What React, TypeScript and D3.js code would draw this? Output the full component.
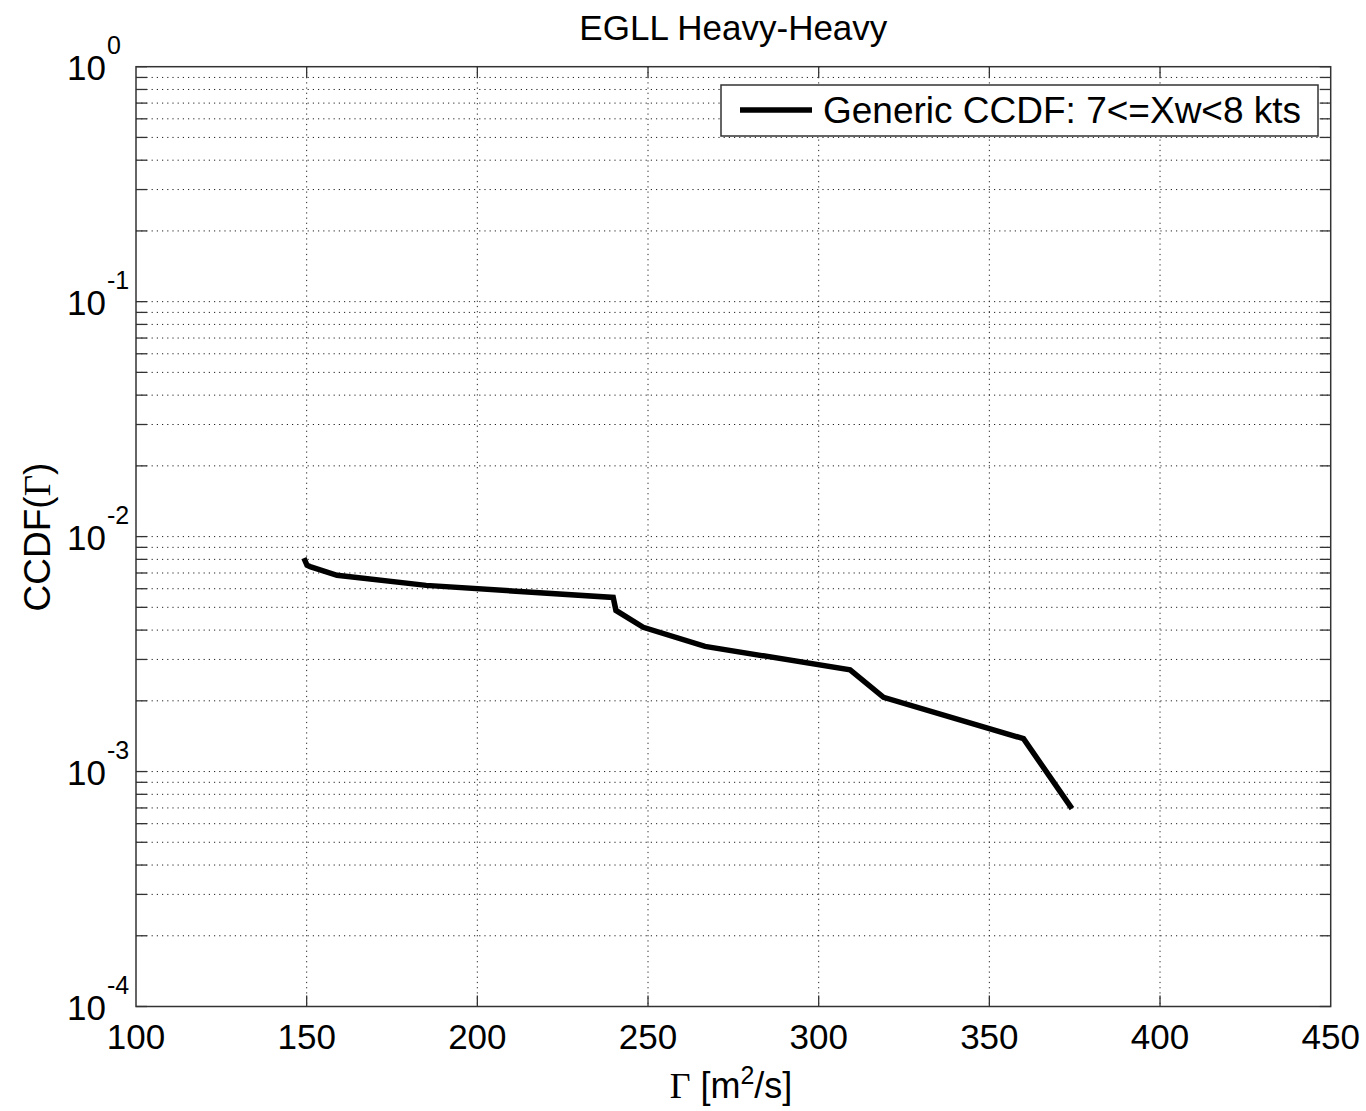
import React from "react";
import * as d3 from "d3";

const title = "EGLL Heavy-Heavy";
const legendLabel = "Generic CCDF: 7<=Xw<8 kts";
const xTicks = [100, 150, 200, 250, 300, 350, 400, 450];
const yDecades = [-4, -3, -2, -1, 0];
const gammaVals = [149.2, 150.1, 151.0, 158.9, 185.0, 239.8, 240.6, 248.6, 266.7, 309.2, 319.0, 360.0, 374.2];
const ccdfVals = [0.0081, 0.00755, 0.00745, 0.00684, 0.0062, 0.00551, 0.00485, 0.00411, 0.00341, 0.00271, 0.00207, 0.00138, 0.000695];

const W = 1366;
const H = 1111;
const L = 136, R = 1330.7, T = 66.7, B = 1006.5;
const FONT = "Arial, 'Liberation Sans', Helvetica, sans-serif";

export default function App() {
  const x = d3.scaleLinear().domain([100, 450]).range([L, R]);
  const y = d3.scaleLog().domain([1e-4, 1]).range([B, T]);
  const minor: number[] = [];
  for (const dec of yDecades.slice(0, -1)) {
    for (let m = 2; m <= 9; m++) minor.push(m * Math.pow(10, dec));
  }
  const majors = yDecades.map((d) => Math.pow(10, d));
  const line = d3
    .line<number>()
    .x((_, i) => x(gammaVals[i]))
    .y((_, i) => y(ccdfVals[i]));
  const dash = "1.2 4";
  const gridColor = "#222";
  const tl = 11;
  return (
    <svg width={W} height={H} style={{ position: "absolute", left: 0, top: 0, background: "#fff" }}>
      <rect x={0} y={0} width={W} height={H} fill="#fff" />
      {/* grid */}
      {xTicks.slice(1, -1).map((t) => (
        <line key={"gx" + t} x1={x(t)} x2={x(t)} y1={T} y2={B} stroke={gridColor} strokeWidth={1} strokeDasharray={dash} />
      ))}
      {[...majors.slice(1, -1), ...minor].map((v, i) => (
        <line key={"gy" + i} x1={L} x2={R} y1={y(v)} y2={y(v)} stroke={gridColor} strokeWidth={1} strokeDasharray={dash} />
      ))}
      {/* ticks */}
      {xTicks.slice(1, -1).map((t) => (
        <g key={"tx" + t}>
          <line x1={x(t)} x2={x(t)} y1={B} y2={B - tl} stroke="#333" strokeWidth={1.3} />
          <line x1={x(t)} x2={x(t)} y1={T} y2={T + tl} stroke="#333" strokeWidth={1.3} />
        </g>
      ))}
      {[...majors, ...minor].map((v, i) => (
        <g key={"ty" + i}>
          <line x1={L} x2={L + tl} y1={y(v)} y2={y(v)} stroke="#333" strokeWidth={1.3} />
          <line x1={R} x2={R - tl} y1={y(v)} y2={y(v)} stroke="#333" strokeWidth={1.3} />
        </g>
      ))}
      <rect x={L} y={T} width={R - L} height={B - T} fill="none" stroke="#333" strokeWidth={1.5} />
      {/* data */}
      <path d={line(gammaVals) || ""} fill="none" stroke="#000" strokeWidth={5.5} strokeLinejoin="miter" />
      {/* x tick labels */}
      {xTicks.map((t) => (
        <text key={"lx" + t} x={x(t)} y={B + 42} textAnchor="middle" fontFamily={FONT} fontSize={35} fill="#000">
          {t}
        </text>
      ))}
      {/* y tick labels */}
      {yDecades.map((d) => (
        <g key={"ly" + d}>
          <text x={106} y={y(Math.pow(10, d)) + 13} textAnchor="end" fontFamily={FONT} fontSize={35} fill="#000">
            10
          </text>
          <text x={107} y={y(Math.pow(10, d)) - 13} textAnchor="start" fontFamily={FONT} fontSize={25} fill="#000">
            {d === 0 ? "0" : "-" + Math.abs(d)}
          </text>
        </g>
      ))}
      {/* title */}
      <text x={(L + R) / 2} y={40} textAnchor="middle" fontFamily={FONT} fontSize={35} fill="#000">
        {title}
      </text>
      {/* x label */}
      <text x={731} y={1098} textAnchor="middle" fontFamily={FONT} fontSize={36} fill="#000">
        <tspan fontFamily="'Liberation Serif', 'Times New Roman', serif">Γ</tspan>
        <tspan> [m</tspan>
        <tspan fontSize={25} dy={-14}>2</tspan>
        <tspan dy={14}>/s]</tspan>
      </text>
      {/* y label */}
      <text transform={`translate(50, 537) rotate(-90)`} textAnchor="middle" fontFamily={FONT} fontSize={37} fill="#000">
        <tspan>CCDF(</tspan>
        <tspan fontFamily="'Liberation Serif', 'Times New Roman', serif">Γ</tspan>
        <tspan>)</tspan>
      </text>
      {/* legend */}
      <rect x={721} y={85} width={597} height={51} fill="#fff" stroke="#333" strokeWidth={1.5} />
      <line x1={740} x2={812} y1={110} y2={110} stroke="#000" strokeWidth={5.5} />
      <text x={823} y={123} fontFamily={FONT} fontSize={37} fill="#000">
        {legendLabel}
      </text>
    </svg>
  );
}
